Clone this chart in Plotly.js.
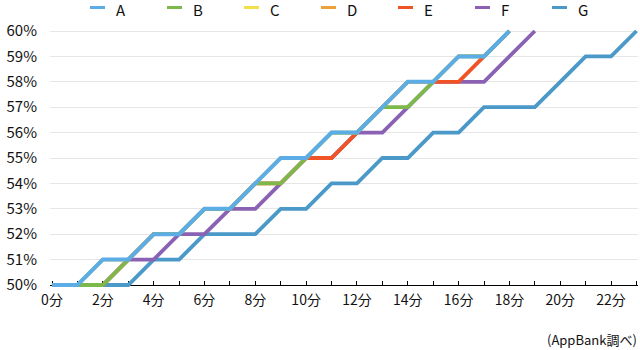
<!DOCTYPE html>
<html>
<head>
<meta charset="utf-8">
<script src="https://cdn.plot.ly/plotly-3.0.1.min.js"></script>
<style>
  html, body { margin: 0; padding: 0; background: #fff; }
  #chart { width: 640px; height: 350px; }
</style>
</head>
<body>
<div id="chart"></div>
<script>
// ---- data ----
const seriesNames = ["A", "B", "C", "D", "E", "F", "G"];
const minutes = [0,1,2,3,4,5,6,7,8,9,10,11,12,13,14,15,16,17,18,19,20,21,22,23];
const seriesA = [50,50,51,51,52,52,53,53,54,55,55,56,56,57,58,58,59,59,60];
const seriesB = [50,50,50,51,52,52,53,53,54,54,55,56,56,57,57,58,59,59,60];
const seriesC = [50,50,51,51,52,52,53,53,54,55,55,56,56,57,58,58,59,59,60];
const seriesD = [50,50,51,51,52,52,53,53,54,55,55,56,56,57,58,58,59,59,60];
const seriesE = [50,50,50,51,52,52,53,53,54,54,55,55,56,57,58,58,58,59,60];
const seriesF = [50,50,50,51,51,52,52,53,53,54,55,55,56,56,57,58,58,58,59,60];
const seriesG = [50,50,50,50,51,51,52,52,52,53,53,54,54,55,55,56,56,57,57,57,58,59,59,60];
const yTickValues = [50,51,52,53,54,55,56,57,58,59,60];
const yTickLabels = ["50%","51%","52%","53%","54%","55%","56%","57%","58%","59%","60%"];
const xTickLabels = ["0分","","2分","","4分","","6分","","8分","","10分","","12分","","14分","","16分","","18分","","20分","","22分",""];
const sourceNote = "(AppBank調べ)";

// ---- styles ----
const colors = {A:"#5cace5", B:"#7cb84a", C:"#f4df4b", D:"#eca23a", E:"#f05426", F:"#8b62b3", G:"#4a99c8"};
const widths = {A:4, B:3.8, C:3.4, D:3.4, E:3.8, F:3.8, G:3.8};
const seriesData = {A:seriesA, B:seriesB, C:seriesC, D:seriesD, E:seriesE, F:seriesF, G:seriesG};
const FONT = '"Noto Sans CJK JP", "Noto Sans", sans-serif';

const W = 640, H = 350;
const M = {l: 50, r: 2, t: 28, b: 62};
const pw = W - M.l - M.r, ph = H - M.t - M.b;
const px2x = p => (p - M.l) / pw;
const px2y = p => (H - M.b - p) / ph;

// draw G first so A ends on top
const traces = seriesNames.slice().reverse().map(name => ({
  type: "scatter",
  mode: "lines",
  name: name,
  x: minutes.slice(0, seriesData[name].length),
  y: seriesData[name],
  line: {color: colors[name], width: widths[name], shape: "linear"},
  showlegend: false,
  hoverinfo: "skip"
}));

// custom legend (small line samples)
const shapes = [];
const annotations = [];
seriesNames.forEach((name, i) => {
  const x0 = 90 + 77 * i;
  shapes.push({
    type: "line", xref: "paper", yref: "paper",
    x0: px2x(x0), x1: px2x(x0 + 15), y0: px2y(7.5), y1: px2y(7.5),
    line: {color: colors[name], width: 3}
  });
  annotations.push({
    xref: "paper", yref: "paper", x: px2x(x0 + 25), y: px2y(9.5),
    xanchor: "left", yanchor: "middle", showarrow: false,
    borderpad: 0,
    text: name, font: {family: FONT, size: 15, color: "#111"}
  });
});
annotations.push({
  xref: "paper", yref: "paper", x: px2x(638), y: px2y(339),
  xanchor: "right", yanchor: "middle", showarrow: false,
  borderpad: 0,
  text: sourceNote, font: {family: FONT, size: 13, color: "#111"}
});

const layout = {
  width: W, height: H,
  margin: M,
  paper_bgcolor: "#fff", plot_bgcolor: "#fff",
  font: {family: FONT, color: "#111"},
  showlegend: false,
  xaxis: {
    range: [-0.079, 23.059],
    anchor: "free", position: px2y(285),
    tickmode: "array", tickvals: minutes, ticktext: xTickLabels,
    ticks: "inside", ticklen: 4, tickwidth: 1, tickcolor: "#000",
    showline: true, linecolor: "#000", linewidth: 1,
    showgrid: false, zeroline: false,
    layer: "below traces",
    tickfont: {family: FONT, size: 14, color: "#111"},
    ticklabelstandoff: 2,
    fixedrange: true
  },
  yaxis: {
    range: [49.882, 60.118],
    tickmode: "array", tickvals: yTickValues, ticktext: yTickLabels,
    showgrid: true, gridcolor: "#e6e6e6", gridwidth: 1,
    showline: false, zeroline: false, ticks: "",
    tickfont: {family: FONT, size: 15, color: "#111"},
    ticklabelstandoff: 12,
    layer: "below traces",
    fixedrange: true
  },
  shapes: shapes,
  annotations: annotations
};

Plotly.newPlot("chart", traces, layout, {staticPlot: true, displayModeBar: false});
</script>
</body>
</html>
